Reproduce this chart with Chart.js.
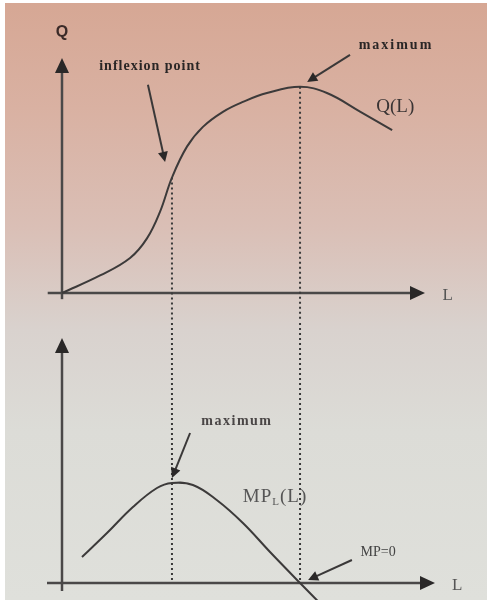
<!DOCTYPE html>
<html>
<head>
<meta charset="utf-8">
<script src="https://cdn.jsdelivr.net/npm/chart.js@4/dist/chart.umd.min.js"></script>
<style>
  html, body { margin: 0; padding: 0; background: #fff; }
  #wrap {
    position: relative; width: 487px; height: 600px; overflow: hidden;
    background: linear-gradient(180deg, #d6a794 0%, #d9b1a2 18%, #dabfb6 38%, #d9d2ce 55%, #dcdcd7 72%, #dfe0db 100%);
    filter: blur(0.4px);
  }
  #wrap:before { content: ''; position: absolute; left: 0; top: 0; width: 5px; height: 600px; background: #fff; }
  #wrap:after { content: ''; position: absolute; left: 0; top: 0; width: 487px; height: 3px; background: #fff; }
  canvas { position: absolute; left: 0; }
  #top { top: 0; }
  #bottom { top: 320px; }
</style>
</head>
<body>
<div id="wrap">
  <canvas id="top" width="487" height="320"></canvas>
  <canvas id="bottom" width="487" height="280"></canvas>
</div>
<script>
// total product Q(L)
const qL = [0, 1.6, 2.86, 3.57, 4.12, 4.62, 5.25, 5.92, 6.76, 7.6, 8.61, 10, 11.13, 12.52, 13.87];
const qValues = [0, 8.5, 17, 26.5, 39.5, 56, 71, 80.6, 87.9, 92.7, 97, 100, 97, 88, 79];

// marginal product MP_L(L)
const mpL = [0.84, 1.89, 2.98, 3.99, 4.62, 5.5, 6.5, 7.6, 8.74, 10, 11.2];
const mpValues = [2.6, 5.0, 7.6, 9.5, 10, 9.8, 8.3, 6.0, 3.1, 0, -2.9];

// inflexion point of Q = max of MP, maximum of Q = MP zero
const guideL = [4.62, 10];
const guideQ = [56, 100];

const ink = '#3c3a3a';

function pts(xs, ys) {
  return xs.map((v, i) => ({ x: v, y: ys[i] }));
}

function arrowHead(ctx, x1, y1, x2, y2, len, half) {
  const a = Math.atan2(y2 - y1, x2 - x1);
  ctx.beginPath();
  ctx.moveTo(x2, y2);
  ctx.lineTo(x2 - len * Math.cos(a) + half * Math.sin(a), y2 - len * Math.sin(a) - half * Math.cos(a));
  ctx.lineTo(x2 - len * Math.cos(a) - half * Math.sin(a), y2 - len * Math.sin(a) + half * Math.cos(a));
  ctx.closePath();
  ctx.fill();
}

function arrow(ctx, x1, y1, x2, y2, lw, len, half) {
  const a = Math.atan2(y2 - y1, x2 - x1);
  ctx.lineWidth = lw;
  ctx.beginPath();
  ctx.moveTo(x1, y1);
  ctx.lineTo(x2 - len * 0.8 * Math.cos(a), y2 - len * 0.8 * Math.sin(a));
  ctx.stroke();
  arrowHead(ctx, x1, y1, x2, y2, len, half);
}

const sketch = {
  id: 'sketch',
  beforeDatasetsDraw(chart, args, o) {
    const { ctx, scales: { x, y } } = chart;
    ctx.save();
    ctx.strokeStyle = '#4a4848';
    ctx.fillStyle = '#2a2828';
    // horizontal axis
    arrow(ctx, x.getPixelForValue(o.xAxis[0]), y.getPixelForValue(0),
      x.getPixelForValue(o.xAxis[1]), y.getPixelForValue(0), 2.5, 15, 7);
    // vertical axis
    arrow(ctx, x.getPixelForValue(0), y.getPixelForValue(o.yAxis[0]),
      x.getPixelForValue(0), y.getPixelForValue(o.yAxis[1]), 2.5, 15, 7);
    ctx.restore();
  },
  afterDatasetsDraw(chart, args, o) {
    const { ctx, scales: { x, y } } = chart;
    ctx.save();
    ctx.strokeStyle = '#3a3838';
    ctx.fillStyle = '#2a2828';
    o.arrows.forEach(a => {
      arrow(ctx, x.getPixelForValue(a[0]), y.getPixelForValue(a[1]),
        x.getPixelForValue(a[2]), y.getPixelForValue(a[3]), 2, 10, 5);
    });
    ctx.textAlign = 'center';
    ctx.textBaseline = 'middle';
    o.labels.forEach(t => {
      ctx.font = t.font;
      ctx.fillStyle = t.color || '#333';
      ctx.letterSpacing = t.spacing || '0px';
      const px = x.getPixelForValue(t.at[0]);
      const py = y.getPixelForValue(t.at[1]);
      if (t.sub) {
        // text with subscript: main, sub, rest
        const w1 = ctx.measureText(t.text).width;
        const w3 = ctx.measureText(t.rest).width;
        ctx.font = t.subFont;
        const w2 = ctx.measureText(t.sub).width;
        let sx = px - (w1 + w2 + w3) / 2;
        ctx.textAlign = 'left';
        ctx.font = t.font;
        ctx.fillText(t.text, sx, py);
        ctx.font = t.subFont;
        ctx.fillText(t.sub, sx + w1, py + 5);
        ctx.font = t.font;
        ctx.fillText(t.rest, sx + w1 + w2, py);
        ctx.textAlign = 'center';
      } else {
        ctx.fillText(t.text, px, py);
      }
    });
    ctx.restore();
  }
};

function curve(data) {
  return {
    data: data,
    showLine: true,
    borderColor: ink,
    borderWidth: 2,
    pointRadius: 0,
    tension: 0.4,
    clip: false
  };
}

function guide(data) {
  return {
    data: data,
    showLine: true,
    borderColor: '#3a3a3a',
    borderWidth: 2,
    borderDash: [2, 3],
    pointRadius: 0,
    clip: false
  };
}

function makeChart(id, datasets, yMax, padding, sketchOpts) {
  return new Chart(document.getElementById(id).getContext('2d'), {
    type: 'scatter',
    data: { datasets: datasets },
    plugins: [sketch],
    options: {
      responsive: false,
      animation: false,
      layout: { padding: padding },
      scales: {
        x: { type: 'linear', min: 0, max: 15.25, display: false },
        y: { type: 'linear', min: 0, max: yMax, display: false }
      },
      plugins: {
        legend: { display: false },
        tooltip: { enabled: false },
        sketch: sketchOpts
      }
    }
  });
}

const labelFont = 'bold 14px "Liberation Serif"';

makeChart('top', [
  curve(pts(qL, qValues)),
  guide([{ x: guideL[0], y: guideQ[0] }, { x: guideL[0], y: -20 }]),
  guide([{ x: guideL[1], y: guideQ[1] }, { x: guideL[1], y: -20 }])
], 114, { left: 62, right: 62, top: 58, bottom: 27 }, {
  xAxis: [-0.6, 15.25],
  yAxis: [-3, 114],
  arrows: [[3.61, 101, 4.33, 63.6], [12.1, 115.5, 10.3, 102.4]],
  labels: [
    { text: 'Q', at: [0, 126.5], font: 'bold 16px "Liberation Sans"', color: '#3a2a28' },
    { text: 'L', at: [16.2, -1], font: '17px "Liberation Serif"', color: '#555' },
    { text: 'inflexion point', at: [3.7, 109.7], font: labelFont, spacing: '1px', color: '#2a2626' },
    { text: 'maximum', at: [14.03, 119.9], font: labelFont, spacing: '2px', color: '#2a2626' },
    { text: 'Q(L)', at: [14.0, 90.3], font: '19px "Liberation Serif"', color: '#3a3434' }
  ]
});

makeChart('bottom', [
  curve(pts(mpL, mpValues)),
  guide([{ x: guideL[0], y: 30 }, { x: guideL[0], y: 0 }]),
  guide([{ x: guideL[1], y: 30 }, { x: guideL[1], y: 0 }])
], 24.5, { left: 62, right: 62, top: 18, bottom: 17 }, {
  xAxis: [-0.63, 15.67],
  yAxis: [-0.8, 24.5],
  arrows: [[5.38, 15, 4.62, 10.5], [12.18, 2.3, 10.34, 0.3]],
  labels: [
    { text: 'L', at: [16.6, -0.3], font: '17px "Liberation Serif"', color: '#555' },
    { text: 'maximum', at: [7.35, 16.2], font: labelFont, spacing: '1.5px', color: '#4a4646' },
    { text: 'MP', sub: 'L', rest: '(L)', at: [8.95, 8.6], font: '19px "Liberation Serif"',
      subFont: '11px "Liberation Serif"', spacing: '1px', color: '#555' },
    { text: 'MP=0', at: [13.28, 3.1], font: '14px "Liberation Serif"', color: '#444' }
  ]
});
</script>
</body>
</html>
